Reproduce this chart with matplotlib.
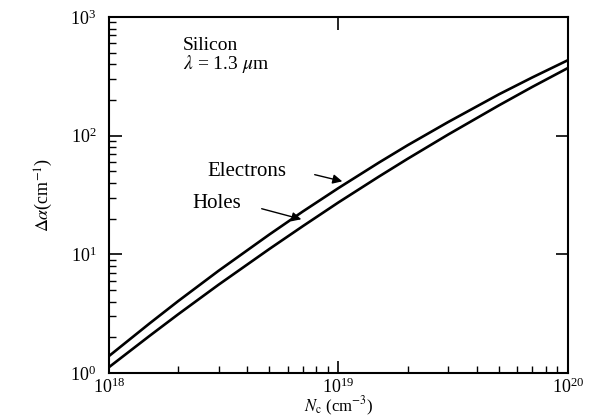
import matplotlib
matplotlib.use('Agg')
import matplotlib.pyplot as plt
import numpy as np

plt.rcParams['font.family'] = ['Liberation Serif', 'DejaVu Serif']
plt.rcParams['mathtext.fontset'] = 'stix'

# carrier density (cm^-3) and absorption change (cm^-1)
nc = [1e18, 1.5e18, 2e18, 3e18, 5e18, 7e18, 1e19,
      1.5e19, 2e19, 3e19, 5e19, 7e19, 1e20]
electrons = [1.39, 2.61, 4.03, 7.26, 14.7, 23.0, 36.2,
             59.3, 83, 130, 223, 310, 433]
holes = [1.12, 2.05, 3.12, 5.54, 11.1, 17.3, 27.4,
         45.2, 63.8, 102, 180, 258, 372]

fig = plt.figure(figsize=(5.98, 4.18), dpi=100)
ax = fig.add_axes([0.1823, 0.1077, 0.7675, 0.8516])

ax.plot(nc, electrons, color='black', lw=1.9)
ax.plot(nc, holes, color='black', lw=1.9)

ax.set_xscale('log')
ax.set_yscale('log')
ax.set_xlim(1e18, 1e20)
ax.set_ylim(1, 1e3)

for s in ax.spines.values():
    s.set_linewidth(1.5)
ax.tick_params(which='both', direction='in', labelsize=13, top=True, right=True)
ax.tick_params(which='major', length=9, width=1.2)
ax.tick_params(axis='x', which='major', pad=3)
ax.tick_params(axis='y', which='major', pad=9)
ax.tick_params(which='minor', length=5, width=1.0, top=False, right=False)

ax.set_xlabel(r'$N_{\rm c}$ (cm$^{-3}$)', fontsize=12, labelpad=-1)
ax.set_ylabel(r'$\Delta\alpha$(cm$^{-1}$)', fontsize=13, labelpad=11)


def px(x, y):
    return (x / 598, 1 - y / 418)


fig.text(*px(183, 46), 'Silicon', fontsize=14, va='center')
fig.text(*px(183, 64), r'$\lambda$ = 1.3 $\mu$m', fontsize=14, va='center')

# annotation arrows
ax.annotate('', xy=px(345, 182), xytext=px(312, 174), xycoords='figure fraction',
            arrowprops=dict(arrowstyle='-|>', color='black', lw=1.0,
                            mutation_scale=14))
ax.annotate('', xy=px(304, 220), xytext=px(259, 208), xycoords='figure fraction',
            arrowprops=dict(arrowstyle='-|>', color='black', lw=1.0,
                            mutation_scale=14))
fig.text(*px(207, 171), 'Electrons', fontsize=15, va='center')
fig.text(*px(192, 204), 'Holes', fontsize=15, va='center')

fig.savefig('out.png', dpi=100)
